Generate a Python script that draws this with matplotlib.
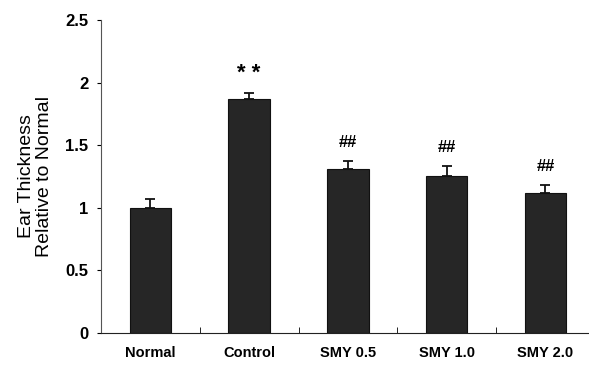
import matplotlib.pyplot as plt

plt.rcParams['font.family'] = ['Liberation Sans', 'DejaVu Sans']

# Werte
gruppen = ['Normal', 'Control', 'SMY 0.5', 'SMY 1.0', 'SMY 2.0']
mittelwerte = [1.00, 1.87, 1.31, 1.25, 1.12]
fehler = [0.07, 0.05, 0.06, 0.08, 0.06]
zeichen = ['', '* *', '##', '##', '##']

fig = plt.figure(figsize=(5.89, 3.68), dpi=100)
ax = fig.add_axes([0.1715, 0.095, 0.83, 0.851])

x = range(len(gruppen))
# nur nach oben gerichtete Fehlerbalken
ax.bar(x, mittelwerte, width=0.42, color='#262626', edgecolor='#111111', linewidth=0.8,
       yerr=[[0] * len(fehler), fehler],
       error_kw=dict(ecolor='#111111', elinewidth=1.3, capsize=3.5, capthick=1.3))

for i, (m, f, z) in enumerate(zip(mittelwerte, fehler, zeichen)):
    if z.startswith('*'):
        ax.text(i, m + f + 0.15, z, ha='center', va='center', fontsize=16, fontweight='bold')
    elif z:
        ax.text(i, m + f + 0.15, z, ha='center', va='center', fontsize=12, fontweight='bold')

ax.set_xlim(-0.5, 4.45)
ax.set_ylim(0, 2.5)
ax.set_yticks([0, 0.5, 1, 1.5, 2, 2.5])
ax.set_yticklabels(['0', '0.5', '1', '1.5', '2', '2.5'])
ax.set_xticks(list(x))
ax.set_xticklabels(gruppen)
ax.set_xticks([0.5, 1.5, 2.5, 3.5], minor=True)

ax.tick_params(axis='y', direction='out', length=3, labelsize=12, pad=6)
ax.tick_params(axis='x', which='major', length=0, labelsize=10.5, pad=9)
ax.tick_params(axis='x', which='minor', direction='in', length=4)
for lbl in ax.get_yticklabels() + ax.get_xticklabels():
    lbl.set_fontweight('bold')

ax.spines['top'].set_visible(False)
ax.spines['right'].set_visible(False)
ax.spines['left'].set_color('#555555')
ax.spines['bottom'].set_color('#222222')

ax.set_ylabel('Ear Thickness\nRelative to Normal', fontsize=14, labelpad=9, linespacing=1.05)

plt.savefig('out.png', dpi=100)
